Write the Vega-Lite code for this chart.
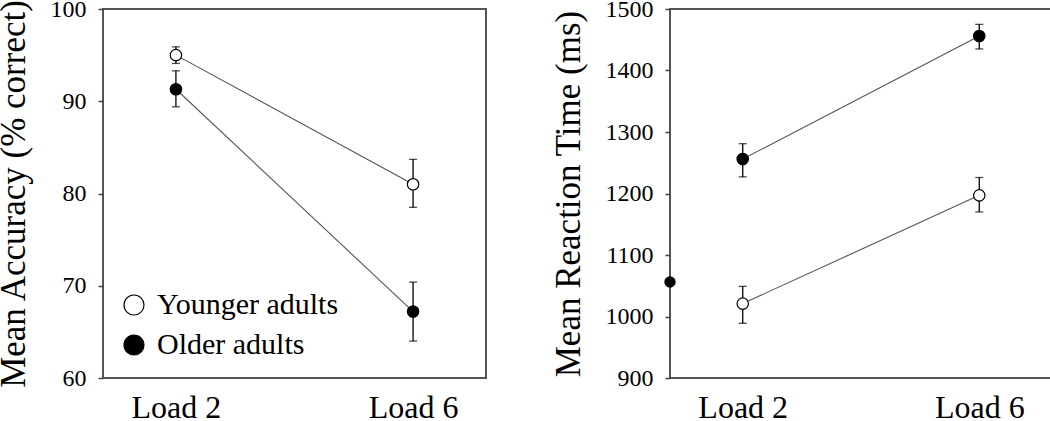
{
  "$schema": "https://vega.github.io/schema/vega-lite/v6.json",
  "background": "white",
  "padding": {"left": -5, "top": -4, "right": 0, "bottom": 0},
  "spacing": 63,
  "datasets": {
    "acc": [
      {"group": "Younger adults", "load": 2, "mean": 95.0, "lo": 94.1, "hi": 95.9},
      {"group": "Younger adults", "load": 6, "mean": 81.0, "lo": 78.5, "hi": 83.7},
      {"group": "Older adults", "load": 2, "mean": 91.3, "lo": 89.4, "hi": 93.3},
      {"group": "Older adults", "load": 6, "mean": 67.2, "lo": 64.0, "hi": 70.4}
    ],
    "rt": [
      {"group": "Younger adults", "load": 2, "mean": 1021, "lo": 989, "hi": 1049},
      {"group": "Younger adults", "load": 6, "mean": 1197, "lo": 1170, "hi": 1226},
      {"group": "Older adults", "load": 2, "mean": 1256, "lo": 1227, "hi": 1281},
      {"group": "Older adults", "load": 6, "mean": 1456, "lo": 1435, "hi": 1475}
    ],
    "stray": [
      {"group": "Older adults", "load": 0.77, "mean": 1056}
    ]
  },
  "hconcat": [
    {
      "width": 383,
      "height": 369,
      "data": {"name": "acc"},
      "encoding": {
        "x": {"field": "load", "type": "quantitative", "scale": {"domain": [0.77, 7.23], "nice": false, "zero": false}, "axis": {"values": [2, 6], "labelExpr": "'Load ' + datum.value", "title": null}}
      },
      "layer": [
        {
          "mark": {"type": "line", "color": "#555555", "strokeWidth": 1.1},
          "encoding": {
            "y": {"field": "mean", "type": "quantitative", "scale": {"domain": [60, 100], "nice": false, "zero": false}, "axis": {"values": [60, 70, 80, 90, 100], "format": "d"}, "title": "Mean Accuracy (% correct)"},
            "detail": {"field": "group"}
          }
        },
        {
          "mark": {"type": "errorbar", "ticks": {"size": 8, "color": "black", "thickness": 1.3}, "rule": {"color": "black", "strokeWidth": 1.3}},
          "encoding": {
            "y": {"field": "lo", "type": "quantitative", "title": "Mean Accuracy (% correct)"},
            "y2": {"field": "hi"}
          }
        },
        {
          "mark": {"type": "point", "filled": true, "shape": "circle", "size": 130, "stroke": "black", "strokeWidth": 1.2, "opacity": 1},
          "encoding": {
            "y": {"field": "mean", "type": "quantitative", "title": "Mean Accuracy (% correct)"},
            "fill": {"field": "group", "type": "nominal", "scale": {"domain": ["Younger adults", "Older adults"], "range": ["white", "black"]},
              "legend": {"orient": "none", "legendX": 16, "legendY": 281, "title": null, "symbolSize": 400, "symbolStrokeColor": "black", "symbolStrokeWidth": 1.2, "labelFontSize": 30, "labelFont": "Liberation Serif", "labelColor": "black", "labelOffset": 8, "labelLimit": 400, "rowPadding": 10, "padding": 0, "symbolType": "circle"}}
          }
        }
      ]
    },
    {
      "width": 382,
      "height": 369,
      "encoding": {
        "x": {"field": "load", "type": "quantitative", "scale": {"domain": [0.77, 7.23], "nice": false, "zero": false}, "axis": {"values": [2, 6], "labelExpr": "'Load ' + datum.value", "title": null}}
      },
      "layer": [
        {
          "data": {"name": "rt"},
          "mark": {"type": "line", "color": "#555555", "strokeWidth": 1.1},
          "encoding": {
            "y": {"field": "mean", "type": "quantitative", "scale": {"domain": [900, 1500], "nice": false, "zero": false}, "axis": {"values": [900, 1000, 1100, 1200, 1300, 1400, 1500], "format": "d"}, "title": "Mean Reaction Time (ms)"},
            "detail": {"field": "group"}
          }
        },
        {
          "data": {"name": "rt"},
          "mark": {"type": "errorbar", "ticks": {"size": 8, "color": "black", "thickness": 1.3}, "rule": {"color": "black", "strokeWidth": 1.3}},
          "encoding": {
            "y": {"field": "lo", "type": "quantitative", "title": "Mean Reaction Time (ms)"},
            "y2": {"field": "hi"}
          }
        },
        {
          "data": {"name": "rt"},
          "mark": {"type": "point", "filled": true, "shape": "circle", "size": 130, "stroke": "black", "strokeWidth": 1.2, "opacity": 1},
          "encoding": {
            "y": {"field": "mean", "type": "quantitative", "title": "Mean Reaction Time (ms)"},
            "fill": {"field": "group", "type": "nominal", "scale": {"domain": ["Younger adults", "Older adults"], "range": ["white", "black"]}, "legend": null}
          }
        },
        {
          "data": {"name": "stray"},
          "mark": {"type": "point", "filled": true, "shape": "circle", "size": 130, "color": "black", "opacity": 1, "clip": false},
          "encoding": {
            "y": {"field": "mean", "type": "quantitative", "title": "Mean Reaction Time (ms)"}
          }
        }
      ]
    }
  ],
  "resolve": {"scale": {"fill": "independent"}, "legend": {"fill": "independent"}},
  "config": {
    "font": "Liberation Serif",
    "view": {"stroke": "#555555", "strokeWidth": 2},
    "legend": {"labelFont": "Liberation Serif", "labelLimit": 400},
    "axis": {"domain": false, "grid": false, "labelFont": "Liberation Serif", "titleFont": "Liberation Serif", "labelColor": "black", "titleColor": "black", "titleFontWeight": "normal"},
    "axisY": {"tickSize": 5, "tickColor": "#444444", "tickWidth": 1.5, "labelFontSize": 24, "labelPadding": 12, "titleFontSize": 35, "titlePadding": 19},
    "axisX": {"ticks": false, "labelFontSize": 32, "labelPadding": 14}
  }
}
